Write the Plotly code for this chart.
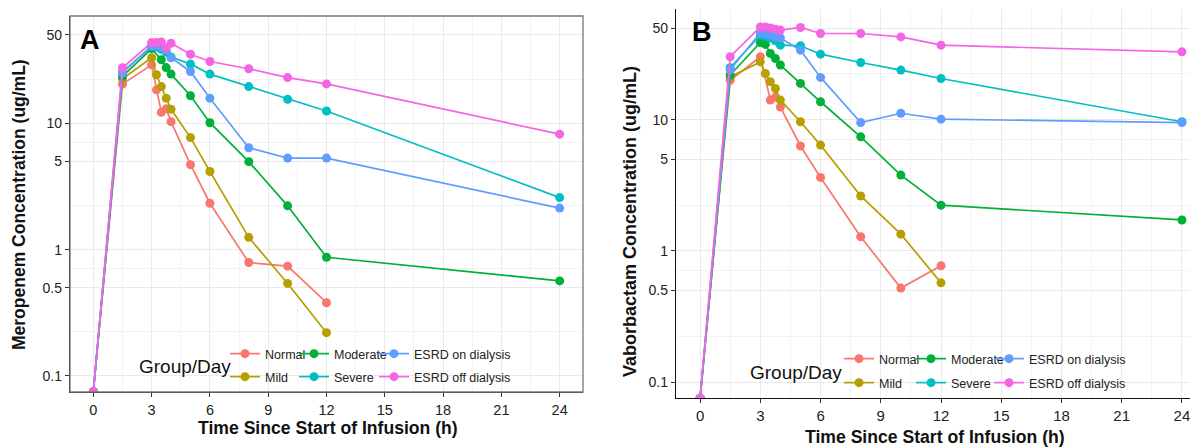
import plotly.graph_objects as go

# ---------------- data ----------------
TIME_H = [0, 1.5, 3, 3.25, 3.5, 3.75, 4, 5, 6, 8, 10, 12, 24]
BLQ = 0.075  # pre-dose (below limit, drawn at panel floor)

GROUPS = ["Normal", "Mild", "Moderate", "Severe", "ESRD on dialysis", "ESRD off dialysis"]
COLORS = ["#F8766D", "#B79F00", "#00B038", "#00BFC4", "#619CFF", "#F564E3"]

# Panel A: Meropenem (ug/mL)
MERO_NORMAL = [BLQ, 20.4, 29.0, 18.4, 12.2, 13.0, 10.3, 4.7, 2.33, 0.79, 0.74, 0.38, None]
MERO_MILD = [BLQ, 22.5, 33.0, 24.2, 19.5, 15.8, 12.9, 7.7, 4.15, 1.25, 0.54, 0.22, None]
MERO_MODERATE = [BLQ, 23.5, 39.0, None, 31.8, 27.6, 24.5, 16.5, 10.1, 4.97, 2.22, 0.87, 0.565]
MERO_SEVERE = [BLQ, 25.5, 40.5, 40.0, 38.5, 36.5, 33.5, 29.4, 24.5, 19.5, 15.5, 12.5, 2.58]
MERO_ESRD_ON = [BLQ, 25.0, 41.0, 41.0, 40.0, 38.0, 33.0, 25.7, 15.8, 6.4, 5.3, 5.3, 2.13]
MERO_ESRD_OFF = [BLQ, 27.5, 43.5, 43.5, 44.0, 39.5, 43.0, 35.2, 30.8, 27.0, 23.0, 20.5, 8.2]

# Panel B: Vaborbactam (ug/mL)
VABOR_NORMAL = [BLQ, 20.0, 30.2, None, 14.1, 14.8, 12.5, 6.3, 3.63, 1.28, 0.52, 0.77, None]
VABOR_MILD = [BLQ, 21.2, 27.6, 22.5, 19.5, 17.3, 14.1, 9.64, 6.4, 2.62, 1.34, 0.57, None]
VABOR_MODERATE = [BLQ, 21.9, 38.8, 37.5, 32.0, 29.3, 26.1, 18.9, 13.7, 7.4, 3.78, 2.23, 1.72]
VABOR_SEVERE = [BLQ, 24.9, 44.1, 43.0, 42.0, 40.0, 37.0, 36.6, 31.6, 27.3, 23.9, 20.6, 9.64]
VABOR_ESRD_ON = [BLQ, 24.0, 46.0, 45.0, 44.0, 43.0, 42.0, 33.9, 21.0, 9.5, 11.2, 10.1, 9.5]
VABOR_ESRD_OFF = [BLQ, 30.2, 51.0, 51.0, 50.0, 49.0, 48.2, 50.5, 45.4, 45.4, 42.8, 37.0, 32.9]

MERO = [MERO_NORMAL, MERO_MILD, MERO_MODERATE, MERO_SEVERE, MERO_ESRD_ON, MERO_ESRD_OFF]
VABOR = [VABOR_NORMAL, VABOR_MILD, VABOR_MODERATE, VABOR_SEVERE, VABOR_ESRD_ON, VABOR_ESRD_OFF]

X_TICKS = [0, 3, 6, 9, 12, 15, 18, 21, 24]
Y_TICKS = [0.1, 0.5, 1, 5, 10, 50]
Y_TICK_TEXT = ["0.1", "0.5", "1", "5", "10", "50"]
Y_MINOR = [0.0224, 0.2236, 0.7071, 2.236, 7.071, 22.36, 70.7]
X_MINOR = [1.5, 4.5, 7.5, 10.5, 13.5, 16.5, 19.5, 22.5]

# ---------------- layout helpers ----------------
# the page body has an 8px margin, so the figure is drawn 8px in from the top-left
OFF = 8
W, H = 1198 - OFF, 447 - OFF
def px(x):
    return (x - OFF) / W
def py(y):
    return 1 - (y - OFF) / H

FONT = "Liberation Sans, Arial, sans-serif"

fig = go.Figure()

# legend slot positions (reference pixels, top-left of each legend entry)
LEG_A = [(225, 339), (225, 362), (294, 339), (294, 362), (374, 339), (374, 362)]
LEG_B = [(839, 344), (839, 368), (911, 344), (911, 368), (989, 344), (989, 368)]

for i, g in enumerate(GROUPS):
    fig.add_trace(go.Scatter(
        x=TIME_H, y=MERO[i], name=g, mode="lines+markers", connectgaps=True,
        line=dict(color=COLORS[i], width=1.7), marker=dict(color=COLORS[i], size=9),
        xaxis="x", yaxis="y", legend="legend" if i == 0 else f"legend{i+1}",
    ))
for i, g in enumerate(GROUPS):
    fig.add_trace(go.Scatter(
        x=TIME_H, y=VABOR[i], name=g, mode="lines+markers", connectgaps=True,
        line=dict(color=COLORS[i], width=1.7), marker=dict(color=COLORS[i], size=9),
        xaxis="x2", yaxis="y2", legend=f"legend{i+7}",
    ))

legends = {}
for i, (lx, ly) in enumerate(LEG_A + LEG_B):
    key = "legend" if i == 0 else f"legend{i+1}"
    legends[key] = dict(
        x=px(lx), y=py(ly), xanchor="left", yanchor="top",
        bgcolor="rgba(0,0,0,0)", borderwidth=0,
        font=dict(family=FONT, size=12.5, color="#222"),
        itemwidth=30, tracegroupgap=0,
    )

axis_common = dict(
    showgrid=True, gridcolor="#EAEAEA", gridwidth=1,
    showline=True, linecolor="#111", linewidth=1.3,
    ticks="outside", ticklen=4, tickcolor="#333", tickwidth=1,
    zeroline=False,
)

# Panel A (reference pixels): x 70..583, y 16..392
# Panel B: x 676..1198, y 9..398
xa = dict(axis_common, domain=[px(70), px(583)], range=[-1.2, 25.2],
          tickvals=X_TICKS, tickfont=dict(family=FONT, size=14.5, color="#222"),
          minor=dict(tickvals=X_MINOR, showgrid=True, gridcolor="#F3F3F3", ticks=""),
          anchor="y")
ya = dict(axis_common, type="log", domain=[py(392), py(16)], range=[-1.127, 1.849],
          tickvals=Y_TICKS, ticktext=Y_TICK_TEXT, tickfont=dict(family=FONT, size=14, color="#222"),
          minor=dict(tickvals=Y_MINOR, showgrid=True, gridcolor="#F3F3F3", ticks=""),
          anchor="x")
xb = dict(axis_common, domain=[px(676), 1.0], range=[-1.2, 24.8],
          tickvals=X_TICKS, tickfont=dict(family=FONT, size=15, color="#222"),
          minor=dict(tickvals=X_MINOR, showgrid=True, gridcolor="#F3F3F3", ticks=""),
          anchor="y2")
yb = dict(axis_common, type="log", domain=[py(398), py(9)], range=[-1.122, 1.844],
          tickvals=Y_TICKS, ticktext=Y_TICK_TEXT, tickfont=dict(family=FONT, size=14, color="#222"),
          minor=dict(tickvals=Y_MINOR, showgrid=True, gridcolor="#F3F3F3", ticks=""),
          anchor="x2")

annotations = [
    dict(text="<b>A</b>", x=px(78), y=py(40), xref="paper", yref="paper", xanchor="left",
         yanchor="middle", showarrow=False, font=dict(family=FONT, size=27, color="#000")),
    dict(text="<b>B</b>", x=px(690), y=py(32), xref="paper", yref="paper", xanchor="left",
         yanchor="middle", showarrow=False, font=dict(family=FONT, size=27, color="#000")),
    dict(text="<b>Time Since Start of Infusion (h)</b>", x=px(328), y=py(428), xref="paper",
         yref="paper", xanchor="center", yanchor="middle", showarrow=False,
         font=dict(family=FONT, size=17.6, color="#111")),
    dict(text="<b>Time Since Start of Infusion (h)</b>", x=px(935), y=py(437), xref="paper",
         yref="paper", xanchor="center", yanchor="middle", showarrow=False,
         font=dict(family=FONT, size=17.6, color="#111")),
    dict(text="<b>Meropenem Concentration (ug/mL)</b>", x=px(19), y=py(205), xref="paper",
         yref="paper", xanchor="center", yanchor="middle", showarrow=False, textangle=-90,
         font=dict(family=FONT, size=17.5, color="#111")),
    dict(text="<b>Vaborbactam Concentration (ug/mL)</b>", x=px(630), y=py(222), xref="paper",
         yref="paper", xanchor="center", yanchor="middle", showarrow=False, textangle=-90,
         font=dict(family=FONT, size=18, color="#111")),
    dict(text="Group/Day", x=px(137), y=py(366), xref="paper", yref="paper", xanchor="left",
         yanchor="middle", showarrow=False, font=dict(family=FONT, size=19, color="#111")),
    dict(text="Group/Day", x=px(748), y=py(372), xref="paper", yref="paper", xanchor="left",
         yanchor="middle", showarrow=False, font=dict(family=FONT, size=19, color="#111")),
]

shapes = [
    dict(type="rect", xref="x domain", yref="y domain", x0=0, x1=1, y0=0, y1=1,
         line=dict(color="#777", width=1.3), layer="above"),
]

fig.update_layout(
    width=W, height=H, margin=dict(l=0, r=0, t=0, b=0),
    paper_bgcolor="white", plot_bgcolor="white",
    xaxis=xa, yaxis=ya, xaxis2=xb, yaxis2=yb,
    annotations=annotations, shapes=shapes,
    showlegend=True,
    **legends,
)

fig.write_html("out.html")
